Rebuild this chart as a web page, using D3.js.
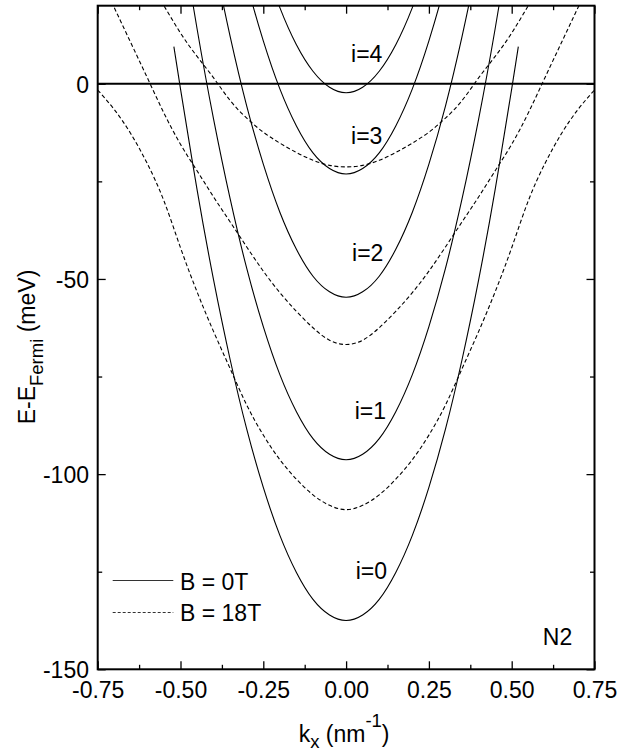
<!DOCTYPE html>
<html>
<head>
<meta charset="utf-8">
<script src="https://cdn.jsdelivr.net/npm/d3@7"></script>
<style>
  html, body { margin: 0; padding: 0; background: #fff; }
  svg { display: block; }
  text { font-family: "Liberation Sans", Arial, sans-serif; fill: #000; }
</style>
</head>
<body>
<svg id="chart" width="634" height="753"></svg>
<script>
// Subband dispersions E(kx) relative to the Fermi level, sample N2.

// Wave-vector grids (nm^-1)
const kSolid = [-0.52, -0.50, -0.45, -0.40, -0.35, -0.30, -0.25, -0.20, -0.15, -0.10, -0.05, 0,
                 0.05, 0.10, 0.15, 0.20, 0.25, 0.30, 0.35, 0.40, 0.45, 0.50, 0.52];
const kDashed = [-0.75, -0.70, -0.65, -0.60, -0.55, -0.50, -0.45, -0.40, -0.35, -0.30, -0.25, -0.20, -0.15, -0.10, -0.05, 0,
                  0.05, 0.10, 0.15, 0.20, 0.25, 0.30, 0.35, 0.40, 0.45, 0.50, 0.55, 0.60, 0.65, 0.70, 0.75];

// B = 0 T subbands i = 0..4 (meV)
const solidI0 = [9.5, -1.3, -27.1, -50.3, -70.7, -88.5, -103.4, -115.7, -125.2, -132.1, -136.1, -137.5,
                 -136.1, -132.1, -125.2, -115.7, -103.4, -88.5, -70.7, -50.3, -27.1, -1.3, 9.5];
const solidI1 = [51.1, 40.0, 14.1, -9.1, -29.5, -47.3, -62.2, -74.5, -84.0, -90.9, -94.9, -96.3,
                 -94.9, -90.9, -84.0, -74.5, -62.2, -47.3, -29.5, -9.1, 14.1, 40.0, 51.1];
const solidI2 = [92.7, 81.6, 55.7, 32.5, 12.1, -5.7, -20.6, -32.9, -42.4, -49.3, -53.3, -54.7,
                 -53.3, -49.3, -42.4, -32.9, -20.6, -5.7, 12.1, 32.5, 55.7, 81.6, 92.7];
const solidI3 = [124.3, 113.2, 87.3, 64.1, 43.7, 25.9, 11.0, -1.3, -10.8, -17.7, -21.7, -23.1,
                 -21.7, -17.7, -10.8, -1.3, 11.0, 25.9, 43.7, 64.1, 87.3, 113.2, 124.3];
const solidI4 = [145.1, 133.9, 108.1, 84.9, 64.5, 46.8, 31.8, 19.5, 10.0, 3.2, -0.9, -2.3,
                 -0.9, 3.2, 10.0, 19.5, 31.8, 46.8, 64.5, 84.9, 108.1, 133.9, 145.1];

// B = 18 T subbands (meV); null = outside the drawn range
const dashedA = [-1.6, -6.6, -12.8, -20.5, -30.0, -42.0, -53.3, -63.5, -73.0, -82.3, -90.0, -96.3, -101.3, -105.3, -108.0, -109.1,
                 -108.0, -105.3, -101.3, -96.3, -90.0, -82.3, -73.0, -63.5, -53.3, -42.0, -30.0, -20.5, -12.8, -6.6, -1.6];
const dashedB = [28.5, 19.5, 10.5, 1.5, -7.5, -15.5, -22.3, -29.0, -35.4, -41.8, -48.0, -53.5, -58.3, -62.5, -65.7, -66.8,
                 -65.7, -62.5, -58.3, -53.5, -48.0, -41.8, -35.4, -29.0, -22.3, -15.5, -7.5, 1.5, 10.5, 19.5, 28.5];
const dashedC = [null, null, null, 27.0, 20.0, 13.0, 7.0, 1.5, -4.3, -8.8, -12.4, -15.2, -17.6, -19.6, -20.9, -21.3,
                 -20.9, -19.6, -17.6, -15.2, -12.4, -8.8, -4.3, 1.5, 7.0, 13.0, 20.0, 27.0, null, null, null];

// Subband labels: [text, kx, E]
const bandLabels = [["i=4", 0.015, 5.5], ["i=3", 0.015, -15.4], ["i=2", 0.018, -45.3],
                    ["i=1", 0.026, -85.9], ["i=0", 0.029, -126.9]];

// Axis ticks
const xMajor = [-0.75, -0.50, -0.25, 0, 0.25, 0.50, 0.75];
const xMinor = [-0.625, -0.375, -0.125, 0.125, 0.375, 0.625];
const yMajor = [-150, -100, -50, 0];
const yMinor = [-125, -75, -25];

const svg = d3.select("#chart");
const L = 97.7, R = 594.5, T = 5.7, B = 669.3;
const x = d3.scaleLinear().domain([-0.75, 0.75]).range([L, R]);
const y = d3.scaleLinear().domain([-150, 20]).range([B, T]);

svg.append("defs").append("clipPath").attr("id", "plotClip")
  .append("rect").attr("x", L).attr("y", T).attr("width", R - L).attr("height", B - T);

const plot = svg.append("g").attr("clip-path", "url(#plotClip)");

const line = d3.line()
  .defined(d => d[1] !== null)
  .x(d => x(d[0])).y(d => y(d[1]))
  .curve(d3.curveNatural);

const solidSeries = [solidI0, solidI1, solidI2, solidI3, solidI4];
const dashedSeries = [dashedA, dashedB, dashedC];

dashedSeries.forEach(vals => {
  plot.append("path")
    .datum(kDashed.map((k, i) => [k, vals[i]]))
    .attr("d", line)
    .attr("fill", "none").attr("stroke", "#000").attr("stroke-width", 1.1)
    .attr("stroke-dasharray", "4,2.5");
});

solidSeries.forEach(vals => {
  plot.append("path")
    .datum(kSolid.map((k, i) => [k, vals[i]]))
    .attr("d", line)
    .attr("fill", "none").attr("stroke", "#000").attr("stroke-width", 1.1);
});

// Fermi level
plot.append("line")
  .attr("x1", L).attr("x2", R).attr("y1", y(0)).attr("y2", y(0))
  .attr("stroke", "#000").attr("stroke-width", 2);

// Axes with inward ticks on all four sides
function styleAxis(g) {
  g.select(".domain").remove();
  g.selectAll(".tick line").attr("stroke", "#000").attr("stroke-width", 1.3);
  g.selectAll(".tick text").attr("font-size", 23).attr("font-family", "'Liberation Sans', Arial, sans-serif").attr("fill", "#000");
}
const fmtX = d => d3.format(".2f")(d).replace("−", "-");
const fmtY = d => String(d);

svg.append("g").attr("transform", `translate(0,${B})`)
  .call(d3.axisBottom(x).tickValues(xMajor).tickSize(-8).tickPadding(12.4).tickFormat(fmtX)).call(styleAxis);
svg.append("g").attr("transform", `translate(0,${B})`)
  .call(d3.axisBottom(x).tickValues(xMinor).tickSize(-4.5).tickFormat("")).call(styleAxis);
svg.append("g").attr("transform", `translate(0,${T})`)
  .call(d3.axisTop(x).tickValues(xMajor).tickSize(-8).tickFormat("")).call(styleAxis);
svg.append("g").attr("transform", `translate(0,${T})`)
  .call(d3.axisTop(x).tickValues(xMinor).tickSize(-4.5).tickFormat("")).call(styleAxis);

svg.append("g").attr("transform", `translate(${L},0)`)
  .call(d3.axisLeft(y).tickValues(yMajor).tickSize(-8).tickPadding(8.7).tickFormat(fmtY)).call(styleAxis)
  .selectAll(".tick text").attr("dy", "0.36em");
svg.append("g").attr("transform", `translate(${L},0)`)
  .call(d3.axisLeft(y).tickValues(yMinor).tickSize(-4.5).tickFormat("")).call(styleAxis);
svg.append("g").attr("transform", `translate(${R},0)`)
  .call(d3.axisRight(y).tickValues(yMajor).tickSize(-8).tickFormat("")).call(styleAxis);
svg.append("g").attr("transform", `translate(${R},0)`)
  .call(d3.axisRight(y).tickValues(yMinor).tickSize(-4.5).tickFormat("")).call(styleAxis);

// Frame
svg.append("rect").attr("x", L).attr("y", T).attr("width", R - L).attr("height", B - T)
  .attr("fill", "none").attr("stroke", "#000").attr("stroke-width", 2);

// Subband labels
svg.append("g").selectAll("text").data(bandLabels).join("text")
  .attr("x", d => x(d[1])).attr("y", d => y(d[2]))
  .attr("font-size", 23).text(d => d[0]);

// Sample name
svg.append("text").attr("x", x(0.594)).attr("y", y(-143.8)).attr("font-size", 23).text("N2");

// Legend
const legend = svg.append("g");
legend.append("line").attr("x1", 112.7).attr("x2", 173.3).attr("y1", 580.5).attr("y2", 580.5)
  .attr("stroke", "#333").attr("stroke-width", 1);
legend.append("text").attr("x", 180).attr("y", 589.5).attr("font-size", 23).text("B = 0T");
legend.append("line").attr("x1", 112.7).attr("x2", 173.3).attr("y1", 612.5).attr("y2", 612.5)
  .attr("stroke", "#333").attr("stroke-width", 1).attr("stroke-dasharray", "3,2");
legend.append("text").attr("x", 180).attr("y", 620.7).attr("font-size", 23).text("B = 18T");

// Axis titles
const xt = svg.append("text").attr("x", (L + R) / 2 - 2).attr("y", 741.5)
  .attr("text-anchor", "middle").attr("font-size", 23);
xt.append("tspan").text("k");
xt.append("tspan").attr("font-size", 18.5).attr("dy", 6.5).text("x");
xt.append("tspan").attr("dy", -6.5).text(" (nm");
xt.append("tspan").attr("font-size", 18.5).attr("dy", -15).text("-1");
xt.append("tspan").attr("dy", 15).text(")");

const yt = svg.append("text").attr("transform", "translate(35,347) rotate(-90)")
  .attr("text-anchor", "middle").attr("font-size", 23);
yt.append("tspan").text("E-E");
yt.append("tspan").attr("font-size", 18.5).attr("dy", 8).text("Fermi");
yt.append("tspan").attr("dy", -8).text(" (meV)");
</script>
</body>
</html>
